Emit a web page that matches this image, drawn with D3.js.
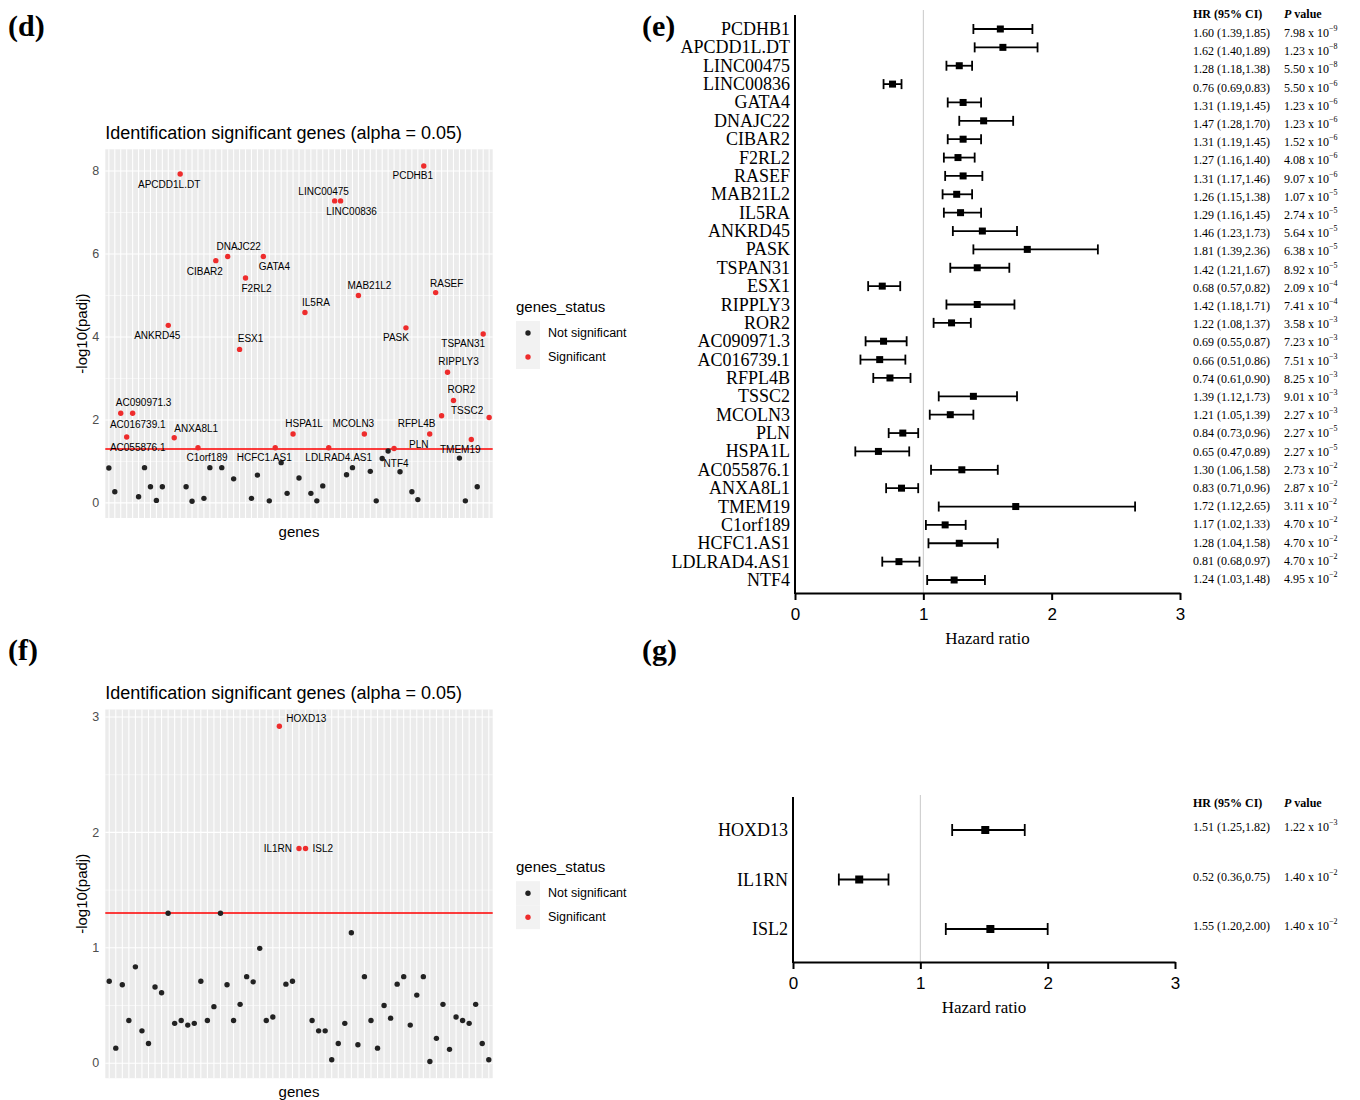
<!DOCTYPE html>
<meta charset="utf-8">
<style>
body { margin: 0; background: #fff; }
text { font-family: "Liberation Sans", Arial, sans-serif; }
.serif { font-family: "Liberation Serif", "Times New Roman", serif; }
.ci { stroke: #000; stroke-width: 1.8; }
</style>
<body>
<script src="https://cdn.jsdelivr.net/npm/d3@7/dist/d3.min.js"></script>
<script>

// ---- panel (d): -log10(padj) per gene ----
var dGenes = ['n01','n02','AC016739.1','AC055876.1','AC090971.3','n06','n07','n08','n09','n10',
  'ANKRD45','ANXA8L1','APCDD1L.DT','n14','n15','C1orf189','n17','n18','CIBAR2','n20',
  'DNAJC22','n22','ESX1','F2RL2','n25','n26','GATA4','n28','HCFC1.AS1','n30',
  'n31','HSPA1L','n33','IL5RA','n35','n36','n37','LDLRAD4.AS1','LINC00475','LINC00836',
  'n41','n42','MAB21L2','MCOLN3','n45','n46','n47','n48','NTF4','n50',
  'PASK','n52','n53','PCDHB1','PLN','RASEF','RFPL4B','RIPPLY3','ROR2','n60',
  'n61','TMEM19','n63','TSPAN31','TSSC2'];
var dValues = [0.84,0.27,2.16,1.59,2.16,0.15,0.85,0.39,0.06,0.39,
  4.28,1.57,7.93,0.39,0.04,1.33,0.11,0.85,5.84,0.85,
  5.94,0.58,3.70,5.42,0.11,0.67,5.94,0.05,1.33,0.97,
  0.23,1.66,0.60,4.59,0.23,0.05,0.41,1.33,7.28,7.28,
  0.68,0.85,5.00,1.66,0.76,0.05,1.07,1.25,1.31,0.75,
  4.22,0.27,0.08,8.12,1.66,5.07,2.10,3.15,2.47,1.08,
  0.05,1.53,0.39,4.07,2.06];
var dTicks = [0, 2, 4, 6, 8];

// ---- panel (e): hazard ratios for the significant genes of (d) ----
var eGenes = ['PCDHB1','APCDD1L.DT','LINC00475','LINC00836','GATA4','DNAJC22','CIBAR2','F2RL2',
  'RASEF','MAB21L2','IL5RA','ANKRD45','PASK','TSPAN31','ESX1','RIPPLY3','ROR2','AC090971.3',
  'AC016739.1','RFPL4B','TSSC2','MCOLN3','PLN','HSPA1L','AC055876.1','ANXA8L1','TMEM19',
  'C1orf189','HCFC1.AS1','LDLRAD4.AS1','NTF4'];
var eHR   = [1.60,1.62,1.28,0.76,1.31,1.47,1.31,1.27,1.31,1.26,1.29,1.46,1.81,1.42,0.68,1.42,
  1.22,0.69,0.66,0.74,1.39,1.21,0.84,0.65,1.30,0.83,1.72,1.17,1.28,0.81,1.24];
var eLow  = [1.39,1.40,1.18,0.69,1.19,1.28,1.19,1.16,1.17,1.15,1.16,1.23,1.39,1.21,0.57,1.18,
  1.08,0.55,0.51,0.61,1.12,1.05,0.73,0.47,1.06,0.71,1.12,1.02,1.04,0.68,1.03];
var eHigh = [1.85,1.89,1.38,0.83,1.45,1.70,1.45,1.40,1.46,1.38,1.45,1.73,2.36,1.67,0.82,1.71,
  1.37,0.87,0.86,0.90,1.73,1.39,0.96,0.89,1.58,0.96,2.65,1.33,1.58,0.97,1.48];
var ePMant = ['7.98','1.23','5.50','5.50','1.23','1.23','1.52','4.08','9.07','1.07','2.74','5.64',
  '6.38','8.92','2.09','7.41','3.58','7.23','7.51','8.25','9.01','2.27','2.27','2.27','2.73',
  '2.87','3.11','4.70','4.70','4.70','4.95'];
var ePExp = [-9,-8,-8,-6,-6,-6,-6,-6,-6,-5,-5,-5,-5,-5,-4,-4,-3,-3,-3,-3,-3,-3,-5,-5,
  -2,-2,-2,-2,-2,-2,-2];

// ---- panel (f) ----
var fGenes = ['m01','m02','m03','m04','m05','m06','m07','m08','m09','m10',
  'm11','m12','m13','m14','m15','m16','m17','m18','m19','m20',
  'm21','m22','m23','m24','m25','m26','HOXD13','m28','m29','IL1RN',
  'ISL2','m32','m33','m34','m35','m36','m37','m38','m39','m40',
  'm41','m42','m43','m44','m45','m46','m47','m48','m49','m50',
  'm51','m52','m53','m54','m55','m56','m57','m58','m59'];
var fValues = [0.71,0.13,0.68,0.37,0.835,0.28,0.17,0.66,0.61,1.30,
  0.345,0.37,0.33,0.345,0.71,0.37,0.49,1.30,0.68,0.37,
  0.51,0.75,0.705,0.995,0.37,0.40,2.92,0.685,0.71,1.86,
  1.86,0.37,0.28,0.28,0.03,0.17,0.345,1.13,0.16,0.75,
  0.37,0.13,0.50,0.39,0.685,0.75,0.33,0.59,0.75,0.015,
  0.215,0.51,0.12,0.40,0.37,0.345,0.51,0.17,0.03];
var fTicks = [0, 1, 2, 3];

// ---- panel (g) ----
var gGenes = ['HOXD13','IL1RN','ISL2'];
var gHR   = [1.51, 0.52, 1.55];
var gLow  = [1.25, 0.36, 1.20];
var gHigh = [1.82, 0.75, 2.00];
var gPMant = ['1.22','1.40','1.40'];
var gPExp  = [-3, -2, -2];

var hrTicks = [0, 1, 2, 3];
var alpha = 0.05;

// label nudges (where ggrepel put them), px from the point: [dx, dy, anchor]
var dNudge = {
  'APCDD1L.DT': [-11, 14], 'PCDHB1': [-11, 13], 'LINC00475': [-11, -6], 'LINC00836': [11, 14],
  'DNAJC22': [11, -6], 'CIBAR2': [-11, 14], 'GATA4': [11, 14], 'F2RL2': [11, 14],
  'IL5RA': [11, -6], 'MAB21L2': [11, -6], 'RASEF': [11, -6], 'ANKRD45': [-11, 14],
  'PASK': [-10, 13], 'TSPAN31': [-20, 13], 'ESX1': [11, -7], 'RIPPLY3': [11, -7],
  'ROR2': [8, -7], 'TSSC2': [-22, -3], 'RFPL4B': [-25, 11], 'AC090971.3': [11, -7],
  'AC016739.1': [17, 15], 'AC055876.1': [11, 14], 'ANXA8L1': [22, -6], 'HSPA1L': [11, -7],
  'MCOLN3': [-11, -7], 'PLN': [-11, 14], 'TMEM19': [-11, 14], 'C1orf189': [9, 13],
  'HCFC1.AS1': [-11, 13], 'LDLRAD4.AS1': [10, 13], 'NTF4': [2, 18]
};
var fNudge = { 'HOXD13': [7, -4, 'start'], 'IL1RN': [-7, 3, 'end'], 'ISL2': [7, 3, 'start'] };

var RED = '#ee2c2c', DARK = '#222';

var svg = d3.select('body').append('svg')
  .attr('width', 1360)
  .attr('height', 1100);

// panel letters
[['(d)', 8, 36], ['(e)', 642, 36], ['(f)', 8, 660], ['(g)', 642, 660]].forEach(function(l) {
  svg.append('text').attr('class', 'serif')
    .attr('x', l[1]).attr('y', l[2])
    .attr('font-size', 30).attr('font-weight', 'bold')
    .text(l[0]);
});

function scatterPanel(genes, values, sigGenes, ticks, nudge, offY) {
  var g = svg.append('g').attr('transform', 'translate(0,' + offY + ')');
  var left = 105.3, right = 492.7, top = 149.3, bottom = 518;

  var x = d3.scalePoint().domain(genes).range([left, right]).padding(0.6);
  var ext = d3.extent(values);
  var pad = (ext[1] - ext[0]) * 0.05;
  var y = d3.scaleLinear().domain([ext[0] - pad, ext[1] + pad]).range([bottom, top]);

  g.append('rect')
    .attr('x', left).attr('y', top)
    .attr('width', right - left).attr('height', bottom - top)
    .attr('fill', '#ebebeb');

  var minor = d3.pairs(ticks).map(function(p) { return (p[0] + p[1]) / 2; });
  if (y(ticks[ticks.length - 1] + (ticks[1] - ticks[0]) / 2) > top) {
    minor.push(ticks[ticks.length - 1] + (ticks[1] - ticks[0]) / 2);
  }
  g.selectAll('.minor').data(minor).enter().append('line')
    .attr('x1', left).attr('x2', right)
    .attr('y1', d => y(d)).attr('y2', d => y(d))
    .attr('stroke', '#fff').attr('stroke-width', 0.55);
  g.selectAll('.major').data(ticks).enter().append('line')
    .attr('x1', left).attr('x2', right)
    .attr('y1', d => y(d)).attr('y2', d => y(d))
    .attr('stroke', '#fff').attr('stroke-width', 1.07);
  g.selectAll('.vgrid').data(genes).enter().append('line')
    .attr('x1', d => x(d)).attr('x2', d => x(d))
    .attr('y1', top).attr('y2', bottom)
    .attr('stroke', '#fff').attr('stroke-width', 1.07);

  // significance threshold
  g.append('line')
    .attr('x1', left).attr('x2', right)
    .attr('y1', y(-Math.log10(alpha))).attr('y2', y(-Math.log10(alpha)))
    .attr('stroke', 'red').attr('stroke-width', 1.5);

  var rows = genes.map((d, i) => ({ gene: d, v: values[i], sig: sigGenes.indexOf(d) >= 0 }));

  g.selectAll('.pt').data(rows).enter().append('circle')
    .attr('cx', d => x(d.gene))
    .attr('cy', d => y(d.v))
    .attr('r', 2.7)
    .attr('fill', d => d.sig ? RED : DARK);

  g.selectAll('.lab').data(rows.filter(d => d.sig)).enter().append('text')
    .attr('x', d => x(d.gene) + nudge[d.gene][0])
    .attr('y', d => y(d.v) + nudge[d.gene][1])
    .attr('text-anchor', d => nudge[d.gene][2] || 'middle')
    .attr('font-size', 10)
    .attr('fill', '#000')
    .text(d => d.gene);

  // y axis labels
  g.selectAll('.ylab').data(ticks).enter().append('text')
    .attr('x', left - 6).attr('y', d => y(d) + 4.3)
    .attr('text-anchor', 'end')
    .attr('font-size', 12.5).attr('fill', '#4d4d4d')
    .text(d => d);

  g.append('text')
    .attr('transform', 'translate(87,' + (top + bottom) / 2 + ') rotate(-90)')
    .attr('text-anchor', 'middle').attr('font-size', 15)
    .text('-log10(padj)');
  g.append('text')
    .attr('x', (left + right) / 2).attr('y', 537)
    .attr('text-anchor', 'middle').attr('font-size', 15)
    .text('genes');
  g.append('text')
    .attr('x', left).attr('y', 139)
    .attr('font-size', 18)
    .text('Identification significant genes (alpha = 0.05)');

  // legend
  g.append('text').attr('x', 516).attr('y', 312).attr('font-size', 15).text('genes_status');
  var keys = [['Not significant', DARK], ['Significant', RED]];
  keys.forEach(function(k, i) {
    var ky = 321 + i * 24;
    g.append('rect').attr('x', 516).attr('y', ky).attr('width', 24).attr('height', 24)
      .attr('fill', '#f2f2f2');
    g.append('circle').attr('cx', 528).attr('cy', ky + 12).attr('r', 2.7).attr('fill', k[1]);
    g.append('text').attr('x', 548).attr('y', ky + 16).attr('font-size', 12.5).text(k[0]);
  });
}

function forestPanel(o) {
  var g = svg.append('g');
  var x = d3.scaleLinear().domain([0, 3]).range([o.x0, o.x1]);
  var y = d3.scalePoint().domain(o.genes).range([o.rowTop, o.rowBottom]);
  var ty = d3.scalePoint().domain(o.genes).range([o.tabTop, o.tabBottom]);
  var f2 = d3.format('.2f');

  g.append('line')
    .attr('x1', x(1)).attr('x2', x(1))
    .attr('y1', o.refTop).attr('y2', o.axisY)
    .attr('stroke', '#c8c8c8').attr('stroke-width', 1);

  var rows = o.genes.map((d, i) => ({ gene: d, hr: o.hr[i], lo: o.lo[i], hi: o.hi[i], pm: o.pm[i], pe: o.pe[i] }));

  var r = g.selectAll('.row').data(rows).enter().append('g');
  r.append('line').attr('class', 'ci')
    .attr('x1', d => x(d.lo)).attr('x2', d => x(d.hi))
    .attr('y1', d => y(d.gene)).attr('y2', d => y(d.gene));
  r.append('line').attr('class', 'ci')
    .attr('x1', d => x(d.lo)).attr('x2', d => x(d.lo))
    .attr('y1', d => y(d.gene) - o.cap / 2).attr('y2', d => y(d.gene) + o.cap / 2);
  r.append('line').attr('class', 'ci')
    .attr('x1', d => x(d.hi)).attr('x2', d => x(d.hi))
    .attr('y1', d => y(d.gene) - o.cap / 2).attr('y2', d => y(d.gene) + o.cap / 2);
  r.append('rect')
    .attr('x', d => x(d.hr) - o.box / 2).attr('y', d => y(d.gene) - o.box / 2)
    .attr('width', o.box).attr('height', o.box)
    .attr('fill', '#000');
  r.append('text').attr('class', 'serif')
    .attr('x', o.x0 - 5).attr('y', d => y(d.gene) + 6)
    .attr('text-anchor', 'end').attr('font-size', 18)
    .text(d => d.gene);

  // HR / p value table
  r.append('text').attr('class', 'serif')
    .attr('x', o.tabX).attr('y', d => ty(d.gene))
    .attr('font-size', 12)
    .text(d => f2(d.hr) + ' (' + f2(d.lo) + ',' + f2(d.hi) + ')');
  var pv = r.append('text').attr('class', 'serif')
    .attr('x', o.tabX + 91).attr('y', d => ty(d.gene))
    .attr('font-size', 12);
  pv.append('tspan').text(d => d.pm + ' x 10');
  pv.append('tspan').attr('dy', -6).attr('font-size', 8).text(d => '\u2212' + Math.abs(d.pe));

  g.append('text').attr('class', 'serif')
    .attr('x', o.tabX).attr('y', o.headY)
    .attr('font-size', 12).attr('font-weight', 'bold')
    .text('HR (95% CI)');
  var hp = g.append('text').attr('class', 'serif')
    .attr('x', o.tabX + 91).attr('y', o.headY)
    .attr('font-size', 12).attr('font-weight', 'bold');
  hp.append('tspan').attr('font-style', 'italic').text('P');
  hp.append('tspan').text(' value');

  // axes
  g.append('line')
    .attr('x1', o.x0).attr('x2', o.x0)
    .attr('y1', o.axisTop).attr('y2', o.axisY + 1)
    .attr('stroke', '#000').attr('stroke-width', 2);
  var ax = g.append('g')
    .attr('transform', 'translate(0,' + o.axisY + ')')
    .call(d3.axisBottom(x).tickValues(hrTicks).tickFormat(d3.format('d'))
      .tickSize(7).tickSizeOuter(0).tickPadding(8));
  ax.select('.domain').attr('stroke-width', 2);
  ax.selectAll('.tick line').attr('stroke-width', 2);
  ax.selectAll('.tick text')
    .attr('font-size', 17).attr('font-family', '"Liberation Sans", Arial, sans-serif');

  g.append('text').attr('class', 'serif')
    .attr('x', (o.x0 + o.x1) / 2).attr('y', o.axisY + 51)
    .attr('text-anchor', 'middle').attr('font-size', 17)
    .text('Hazard ratio');
}

scatterPanel(dGenes, dValues, eGenes, dTicks, dNudge, 0);
scatterPanel(fGenes, fValues, gGenes, fTicks, fNudge, 560.2);

forestPanel({
  genes: eGenes, hr: eHR, lo: eLow, hi: eHigh, pm: ePMant, pe: ePExp,
  x0: 795, x1: 1180, rowTop: 29, rowBottom: 580, axisTop: 15, refTop: 10, axisY: 593,
  tabX: 1193, tabTop: 37, tabBottom: 583, headY: 18, box: 7, cap: 10
});
forestPanel({
  genes: gGenes, hr: gHR, lo: gLow, hi: gHigh, pm: gPMant, pe: gPExp,
  x0: 793, x1: 1175, rowTop: 830, rowBottom: 929, axisTop: 797, refTop: 795, axisY: 962,
  tabX: 1193, tabTop: 831, tabBottom: 930, headY: 807, box: 8, cap: 12
});

</script>
</body>
</html>
